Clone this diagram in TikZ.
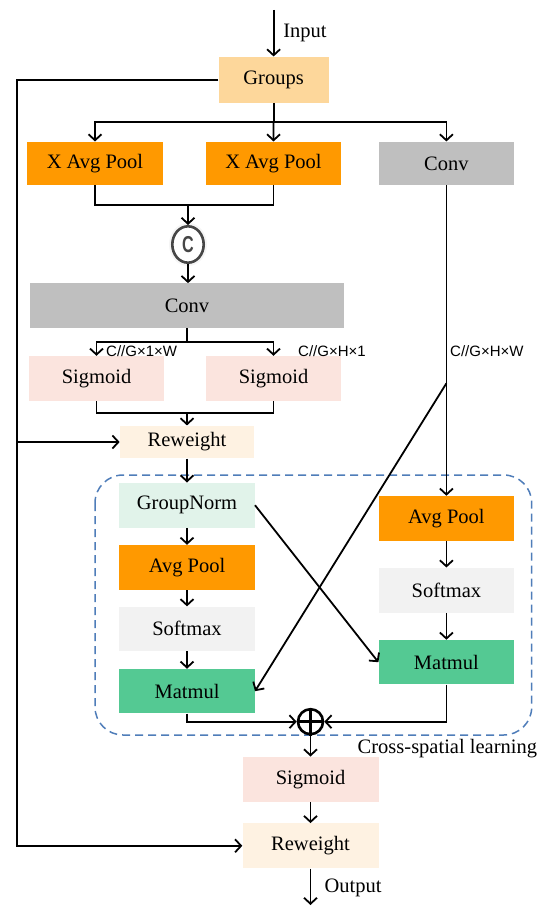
\documentclass[tikz,border=0pt]{standalone}
\usepackage{fontspec}
\usepackage{graphicx}
\setmainfont{Liberation Serif}
\newfontfamily\lsans{Liberation Sans}
\usetikzlibrary{arrows.meta,shapes.geometric}
\definecolor{cgroups}{RGB}{253,215,155}
\definecolor{corange}{RGB}{255,153,0}
\definecolor{cgray}{RGB}{191,191,191}
\definecolor{cpink}{RGB}{251,228,222}
\definecolor{ccream}{RGB}{254,242,226}
\definecolor{cmint}{RGB}{225,243,234}
\definecolor{csoft}{RGB}{242,242,242}
\definecolor{cgreen}{RGB}{84,201,147}
\definecolor{cdash}{RGB}{79,125,185}
\definecolor{cring}{RGB}{70,70,70}
\definecolor{cbg}{RGB}{245,245,245}
\begin{document}
\begin{tikzpicture}[x=1pt,y=-1pt,
  box/.style={rectangle, inner sep=0pt, minimum width=135.6pt, minimum height=44.5pt, font=\fontsize{20.5}{24}\selectfont},
  conn/.style={line width=1.8pt, line join=miter},
  arr/.style={conn, -{Straight Barb[length=6pt,width=13pt]}},
  dimlab/.style={font=\lsans\fontsize{15}{17}\selectfont, anchor=west, inner sep=0pt},
  plain/.style={inner sep=0pt, font=\fontsize{20.5}{24}\selectfont}]
\useasboundingbox (0,0) rectangle (550,912);
% dashed region
\draw[cdash, line width=1.5pt, dash pattern=on 8pt off 5pt, rounded corners=28pt] (95,475) rectangle (531.7,735);
% nodes
\node[box, fill=cgroups, minimum width=110pt, minimum height=46pt] (groups) at (273.6,79.7) {Groups};
\node[box, fill=corange, minimum height=43.6pt] (xap1) at (95,163.5) {X Avg Pool};
\node[box, fill=corange, minimum height=43.6pt] (xap2) at (273.5,163.5) {X Avg Pool};
\node[box, fill=cgray, minimum height=43.6pt] (conv1) at (446.4,163.5) {Conv};
\fill[cbg] (188,244.5) ellipse (19 and 21.5);
\node[ellipse, draw=cring, fill=white, line width=2.6pt, minimum width=31.4pt, minimum height=36.4pt, inner sep=0pt, text=cring, font=\lsans\bfseries\fontsize{23}{24}\selectfont] (ccirc) at (188,244.5) {\scalebox{0.7}[1]{C}};
\node[box, fill=cgray, minimum width=314pt, minimum height=44.3pt] (conv2) at (187,305.5) {Conv};
\node[box, fill=cpink, minimum height=45pt] (sig1) at (96.5,378.5) {Sigmoid};
\node[box, fill=cpink, minimum height=45pt] (sig2) at (273.5,378.5) {Sigmoid};
\node[box, fill=ccream, minimum width=134.3pt, minimum height=32.7pt] (rw1) at (187,442) {Reweight};
\node[box, fill=cmint, minimum height=45pt] (gn) at (187,505.2) {GroupNorm};
\node[box, fill=corange, minimum height=45pt] (ap1) at (187,567.5) {Avg Pool};
\node[box, fill=csoft, minimum height=44.5pt] (sm1) at (187,628.8) {Softmax};
\node[box, fill=cgreen, minimum height=44.5pt] (mm1) at (187,691.2) {Matmul};
\node[box, fill=corange, minimum height=44.7pt] (ap2) at (446.4,518.3) {Avg Pool};
\node[box, fill=csoft, minimum height=45pt] (sm2) at (446.4,590.2) {Softmax};
\node[box, fill=cgreen, minimum height=44.5pt] (mm2) at (446.4,662.2) {Matmul};
\node[circle, draw=black, fill=white, line width=2.6pt, minimum size=25pt, inner sep=0pt] (op) at (310.5,721.7) {};
\draw[line width=2.6pt] (op.north) -- (op.south) (op.west) -- (op.east);
\node[box, fill=cpink, minimum width=136pt, minimum height=45pt] (sig3) at (310.5,779.2) {Sigmoid};
\node[box, fill=ccream, minimum width=136pt, minimum height=45pt] (rw2) at (310.5,845.8) {Reweight};
% labels
\node[plain] (lin) at (305,33) {Input};
\node[plain] (lout) at (353,888.3) {Output};
\node[plain] (lcross) at (447.4,748.3) {Cross-spatial learning};
\node[dimlab] (d1) at (106,351) {C//G×1×W};
\node[dimlab] (d2) at (298,351) {C//G×H×1};
\node[dimlab] (d3) at (450,351) {C//G×H×W};
% coordinates
\coordinate (inp) at (273.6,10);
\coordinate (split1) at (273.6,121.7);
\coordinate (merge1) at (188,205);
\coordinate (split2) at (187,341.7);
\coordinate (merge2) at (187,412.7);
\coordinate (lftB) at (17,845.8);
\coordinate (dj) at (446.4,383.3);
\coordinate (outp) at (310.5,905);
% connectors
\draw[arr] (inp) -- (groups.north);
\draw[conn] (groups.south) -- (split1);
\draw[arr] (split1) -| (xap1.north);
\draw[arr] (split1) -- (xap2.north);
\draw[arr] (split1) -| (conv1.north);
\draw[conn] (xap1.south) |- (merge1);
\draw[conn] (xap2.south) |- (merge1);
\draw[arr] (merge1) -- (ccirc.north);
\draw[arr] (ccirc.south) -- (ccirc.south |- conv2.north);
\draw[conn] (conv2.south) -- (split2);
\draw[arr] (split2) -| (sig1.north);
\draw[arr] (split2) -| (sig2.north);
\draw[conn] (sig1.south) |- (merge2);
\draw[conn] (sig2.south) |- (merge2);
\draw[arr] (merge2) -- (rw1.north);
\draw[arr] (groups.west) -| (lftB) -- (rw2.west);
\draw[arr] (lftB |- rw1.west) -- (rw1.west);
\draw[arr] (rw1.south) -- (gn.north);
\draw[arr] (gn.south) -- (ap1.north);
\draw[arr] (ap1.south) -- (sm1.north);
\draw[arr] (sm1.south) -- (mm1.north);
\draw[arr] (conv1.south) -- (ap2.north);
\draw[arr] (ap2.south) -- (sm2.north);
\draw[arr] (sm2.south) -- (mm2.north);
\draw[arr] (gn.east) -- (mm2.west);
\draw[arr] (dj) -- (mm1.east);
\draw[arr] (mm1.south) |- (op.west);
\draw[arr] (mm2.south) |- (op.east);
\draw[arr] (op.south) -- (sig3.north);
\draw[arr] (sig3.south) -- (rw2.north);
\draw[arr] (rw2.south) -- (outp);
\end{tikzpicture}
\end{document}
